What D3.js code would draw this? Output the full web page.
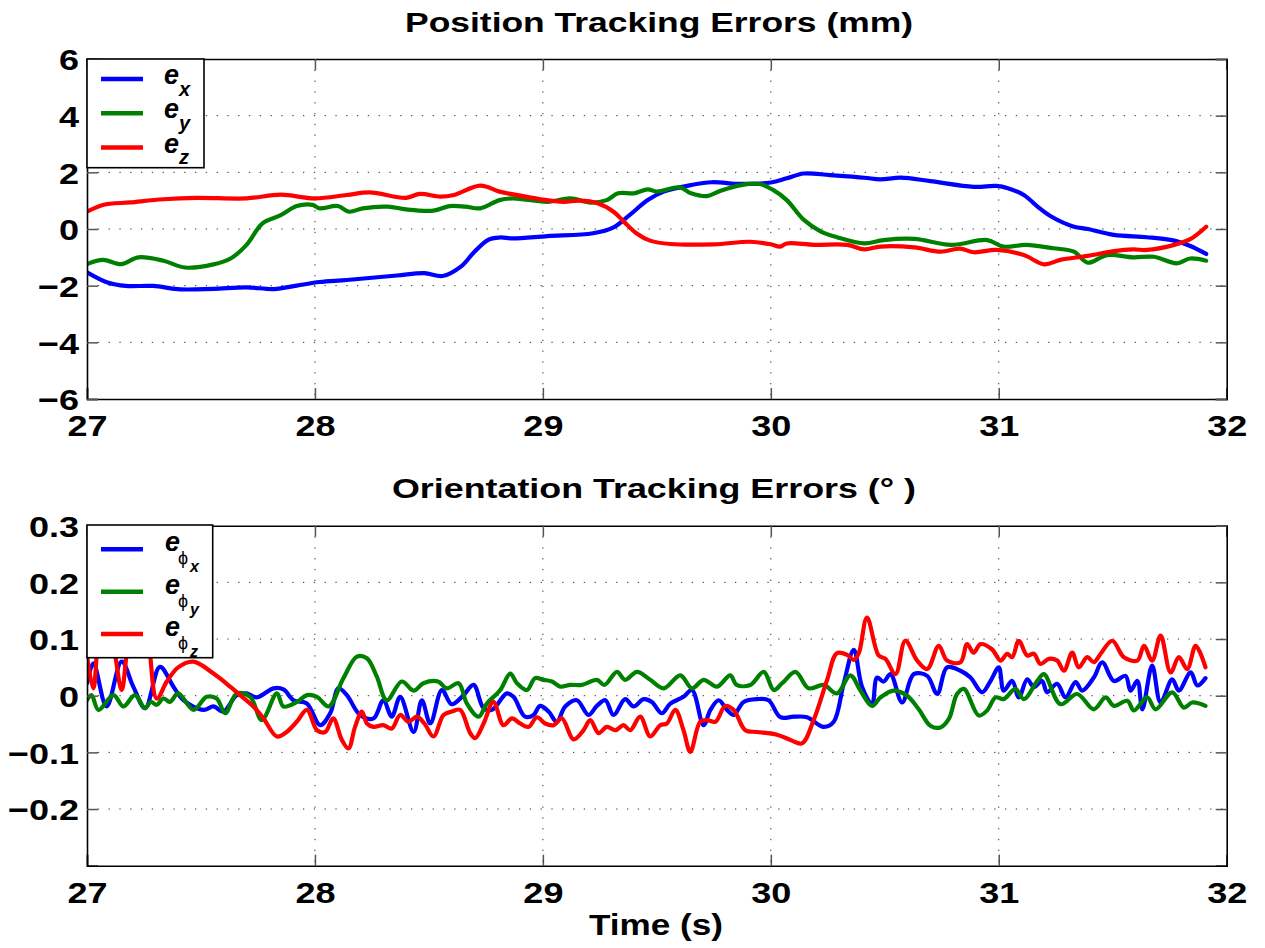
<!DOCTYPE html>
<html>
<head>
<meta charset="utf-8">
<script src="https://cdn.jsdelivr.net/npm/d3@7"></script>
<style>
  html, body { margin: 0; padding: 0; background: #fff; }
  svg { display: block; }
  text { font-family: "Liberation Sans", Arial, Helvetica, sans-serif; }
</style>
</head>
<body>
<svg id="chart" width="1265" height="948"></svg>
<script>
// ---------------- DATA ----------------
const xTicks = [27, 28, 29, 30, 31, 32];
const posYTicks = [-6, -4, -2, 0, 2, 4, 6];
const oriYTicks = [-0.2, -0.1, 0, 0.1, 0.2, 0.3];

// Position errors (mm)
const tPosX = [27.0,27.09,27.17,27.29,27.41,27.555,27.70,27.82,27.92,28.02,28.14,28.36,28.48,28.56,28.64,28.70,28.76,28.81,28.87,29.02,29.22,29.31,29.38,29.46,29.53,29.65,29.74,29.87,30.0,30.07,30.145,30.26,30.41,30.48,30.57,30.70,30.89,30.99,31.04,31.11,31.17,31.23,31.33,31.39,31.505,31.65,31.77,31.84,31.91];
const posX  = [-1.53,-1.89,-2.01,-2.01,-2.13,-2.11,-2.06,-2.12,-2.0,-1.87,-1.8,-1.64,-1.56,-1.66,-1.33,-0.8,-0.38,-0.3,-0.33,-0.25,-0.15,0.06,0.49,1.02,1.32,1.55,1.65,1.59,1.64,1.79,1.96,1.9,1.81,1.75,1.81,1.69,1.49,1.52,1.44,1.2,0.79,0.44,0.08,0.0,-0.21,-0.29,-0.41,-0.6,-0.88];

const tPosY = [27.0,27.07,27.15,27.225,27.335,27.43,27.555,27.63,27.70,27.77,27.85,27.92,27.99,28.02,28.10,28.15,28.21,28.32,28.40,28.52,28.59,28.66,28.725,28.81,28.87,29.02,29.12,29.21,29.28,29.33,29.40,29.46,29.50,29.60,29.65,29.72,29.78,29.87,29.95,30.01,30.07,30.145,30.22,30.29,30.41,30.495,30.63,30.79,30.95,31.02,31.12,31.24,31.33,31.39,31.475,31.59,31.68,31.78,31.84,31.91];
const posY  = [-1.24,-1.09,-1.24,-1.0,-1.12,-1.36,-1.25,-1.04,-0.56,0.2,0.49,0.81,0.85,0.73,0.81,0.61,0.73,0.79,0.69,0.65,0.81,0.79,0.73,1.02,1.08,0.96,1.08,0.93,1.02,1.26,1.26,1.4,1.32,1.47,1.26,1.16,1.35,1.55,1.59,1.38,1.02,0.32,-0.09,-0.29,-0.51,-0.39,-0.35,-0.56,-0.39,-0.62,-0.56,-0.68,-0.8,-1.19,-0.92,-1.0,-0.98,-1.21,-1.04,-1.12];

const tPosZ = [27.0,27.07,27.19,27.335,27.48,27.70,27.85,28.0,28.14,28.24,28.40,28.46,28.55,28.61,28.725,28.81,28.87,28.99,29.09,29.16,29.24,29.31,29.355,29.41,29.47,29.56,29.75,29.91,30.0,30.04,30.07,30.19,30.335,30.41,30.48,30.63,30.745,30.83,30.89,30.99,31.11,31.20,31.27,31.39,31.505,31.59,31.65,31.77,31.84,31.91];
const posZ  = [0.61,0.85,0.94,1.05,1.1,1.08,1.21,1.08,1.2,1.29,1.1,1.24,1.14,1.2,1.53,1.32,1.22,1.05,0.96,1.0,0.91,0.61,0.26,-0.15,-0.41,-0.53,-0.54,-0.45,-0.54,-0.62,-0.51,-0.56,-0.56,-0.72,-0.62,-0.65,-0.8,-0.69,-0.82,-0.74,-0.92,-1.25,-1.09,-0.95,-0.78,-0.72,-0.74,-0.56,-0.36,0.08];

// Orientation errors (deg)
const tOriX = [27.0,27.028,27.086,27.152,27.203,27.255,27.32,27.379,27.423,27.511,27.555,27.598,27.657,27.70,27.745,27.818,27.862,27.906,27.965,28.023,28.067,28.103,28.14,28.198,28.257,28.30,28.337,28.374,28.433,28.469,28.506,28.557,28.60,28.652,28.696,28.74,28.776,28.842,28.871,28.922,28.959,28.988,29.025,29.061,29.098,29.149,29.20,29.237,29.274,29.31,29.361,29.398,29.442,29.478,29.522,29.559,29.617,29.654,29.705,29.735,29.771,29.808,29.837,29.881,29.939,29.99,30.042,30.10,30.159,30.232,30.276,30.32,30.364,30.40,30.444,30.466,30.495,30.525,30.576,30.627,30.686,30.73,30.773,30.832,30.876,30.927,30.964,31.0,31.022,31.059,31.088,31.125,31.154,31.19,31.212,31.256,31.293,31.337,31.366,31.417,31.454,31.505,31.556,31.578,31.608,31.63,31.673,31.71,31.761,31.79,31.842,31.871,31.907];
const oriX  = [0.022,0.057,-0.019,0.06,0.016,-0.022,0.051,0.016,-0.008,-0.025,-0.019,-0.028,0.001,0.004,-0.003,0.013,0.011,-0.008,-0.014,-0.052,-0.031,0.013,0.001,-0.034,-0.04,-0.008,-0.037,-0.002,-0.064,-0.008,-0.049,0.01,-0.015,0.001,0.019,-0.022,-0.025,0.004,-0.002,-0.037,-0.034,-0.018,-0.028,-0.046,-0.019,-0.008,-0.034,-0.018,-0.008,-0.034,-0.006,-0.019,-0.006,-0.011,-0.031,-0.014,-0.002,0.01,-0.052,-0.025,-0.008,-0.025,-0.034,-0.011,-0.006,-0.008,-0.038,-0.037,-0.038,-0.055,-0.046,0.022,0.081,0.016,-0.015,0.032,0.025,0.038,-0.012,0.038,0.035,0.003,0.05,0.044,0.032,0.006,0.026,0.05,0.009,0.026,-0.003,0.029,0.015,0.026,0.006,0.021,-0.003,0.024,0.009,0.032,0.059,0.026,0.035,0.009,0.026,-0.024,0.053,-0.012,0.029,0.009,0.041,0.018,0.031];

const tOriY = [27.0,27.02,27.05,27.116,27.16,27.21,27.255,27.28,27.306,27.335,27.364,27.40,27.467,27.525,27.569,27.606,27.657,27.716,27.767,27.833,27.862,27.921,27.965,28.009,28.06,28.125,28.184,28.228,28.271,28.315,28.381,28.433,28.476,28.54,28.579,28.63,28.667,28.718,28.754,28.813,28.857,28.886,28.93,28.966,29.003,29.04,29.076,29.12,29.171,29.237,29.27,29.325,29.361,29.413,29.471,29.53,29.603,29.654,29.705,29.764,29.822,29.85,29.91,29.969,30.013,30.05,30.108,30.166,30.232,30.29,30.349,30.393,30.444,30.481,30.539,30.598,30.649,30.70,30.744,30.781,30.817,30.847,30.912,30.949,30.986,31.022,31.073,31.11,31.169,31.198,31.271,31.344,31.417,31.469,31.505,31.564,31.593,31.651,31.688,31.761,31.812,31.849,31.907];
const oriY  = [-0.008,0.001,-0.025,0.001,-0.019,0.001,-0.022,-0.011,-0.016,-0.005,-0.011,0.004,-0.025,-0.002,-0.005,-0.031,0.004,-0.002,-0.043,0.004,-0.019,-0.011,0.001,-0.002,-0.019,0.031,0.069,0.066,0.034,-0.008,0.025,0.009,0.022,0.025,0.013,0.022,-0.014,-0.037,-0.014,0.01,0.039,0.022,0.01,0.031,0.028,0.025,0.016,0.019,0.019,0.028,0.019,0.042,0.028,0.042,0.028,0.013,0.036,0.013,0.028,0.016,0.036,0.019,0.019,0.042,0.01,0.022,0.042,0.013,0.019,0.004,0.036,0.009,-0.018,-0.003,0.009,0.0,-0.024,-0.053,-0.056,-0.041,0.003,0.012,-0.035,-0.026,-0.003,-0.006,0.012,-0.006,0.026,0.038,-0.015,0.003,-0.024,-0.003,-0.018,-0.009,-0.026,-0.003,-0.024,0.006,-0.021,-0.012,-0.018];

const tOriZ = [27.0,27.028,27.06,27.09,27.12,27.152,27.18,27.22,27.26,27.306,27.35,27.40,27.467,27.555,27.628,27.672,27.73,27.774,27.833,27.876,27.92,27.965,28.009,28.045,28.08,28.118,28.147,28.176,28.206,28.228,28.257,28.30,28.337,28.374,28.41,28.447,28.48,28.52,28.564,28.60,28.637,28.681,28.703,28.74,28.783,28.827,28.864,28.9,28.937,28.974,29.01,29.047,29.083,29.135,29.178,29.208,29.244,29.281,29.318,29.354,29.383,29.427,29.471,29.515,29.544,29.581,29.617,29.647,29.69,29.72,29.757,29.80,29.837,29.888,29.939,30.027,30.086,30.137,30.188,30.247,30.29,30.335,30.364,30.386,30.422,30.473,30.503,30.547,30.59,30.642,30.686,30.737,30.773,30.832,30.861,30.89,30.92,30.97,31.008,31.037,31.059,31.088,31.125,31.154,31.183,31.22,31.256,31.286,31.322,31.351,31.388,31.417,31.447,31.498,31.549,31.608,31.637,31.673,31.71,31.754,31.79,31.827,31.864,31.907];
const oriZ  = [0.07,0.013,0.12,0.13,0.08,0.01,0.09,0.15,0.12,-0.005,0.025,0.05,0.06,0.039,0.016,0.001,-0.019,-0.04,-0.072,-0.064,-0.046,-0.025,-0.061,-0.064,-0.04,-0.078,-0.093,-0.055,-0.028,-0.049,-0.055,-0.052,-0.058,-0.034,-0.046,-0.037,-0.049,-0.072,-0.034,-0.028,-0.025,-0.066,-0.075,-0.049,-0.011,-0.052,-0.04,-0.049,-0.055,-0.038,-0.049,-0.052,-0.04,-0.077,-0.061,-0.043,-0.066,-0.055,-0.061,-0.052,-0.061,-0.037,-0.072,-0.052,-0.049,-0.025,-0.061,-0.099,-0.046,-0.043,-0.046,-0.018,-0.025,-0.061,-0.064,-0.069,-0.078,-0.084,-0.043,0.028,0.075,0.072,0.063,0.075,0.138,0.071,0.065,0.038,0.097,0.062,0.047,0.088,0.062,0.059,0.091,0.076,0.091,0.082,0.062,0.074,0.068,0.097,0.071,0.074,0.056,0.065,0.062,0.044,0.076,0.05,0.068,0.059,0.074,0.097,0.068,0.062,0.088,0.062,0.106,0.041,0.068,0.047,0.088,0.05];

const colors = { x: "#0000ff", y: "#008000", z: "#ff0000" };
const axisLabels = ["x", "y", "z"];

// ---------------- LAYOUT ----------------
const svg = d3.select("#chart");
const L = 87, R = 1226.7;
const panels = [
  { top: 59, bottom: 399, domain: [-6, 6], yTicks: posYTicks, fmt: d3.format("d"),
    title: "Position Tracking Errors (mm)", titleX: 405, titleLen: 508, titleY: 32,
    series: [[tPosX, posX, "x"], [tPosY, posY, "y"], [tPosZ, posZ, "z"]], id: "p" },
  { top: 525.7, bottom: 865.7, domain: [-0.3, 0.3], yTicks: oriYTicks,
    fmt: d => d === 0 ? "0" : d3.format(".1f")(d),
    title: "Orientation Tracking Errors (\u00B0 )", titleX: 392, titleLen: 524, titleY: 498,
    series: [[tOriX, oriX, "x"], [tOriY, oriY, "y"], [tOriZ, oriZ, "z"]], id: "o" }
];

const x = d3.scaleLinear().domain([27, 32]).range([L, R]);
const TS = 1.2; // horizontal text stretch of tick labels

panels.forEach(p => {
  const y = d3.scaleLinear().domain(p.domain).range([p.bottom, p.top]);
  const g = svg.append("g");

  svg.append("clipPath").attr("id", "clip-" + p.id)
    .append("rect").attr("x", L).attr("y", p.top).attr("width", R - L).attr("height", p.bottom - p.top);

  // grid
  const grid = g.append("g").attr("stroke", "#333").attr("stroke-width", 1).attr("stroke-dasharray", "1.3,9.5");
  xTicks.filter(t => t > 27 && t < 32).forEach(t => {
    grid.append("line").attr("x1", x(t)).attr("x2", x(t)).attr("y1", p.top).attr("y2", p.bottom);
  });
  p.yTicks.filter(t => y(t) > p.top + 1 && y(t) < p.bottom - 1).forEach(t => {
    grid.append("line").attr("x1", L).attr("x2", R).attr("y1", y(t)).attr("y2", y(t));
  });

  // lines
  const line = d3.line().x(d => x(d[0])).y(d => y(d[1])).curve(d3.curveCatmullRom.alpha(0.5));
  const lg = g.append("g").attr("clip-path", `url(#clip-${p.id})`);
  p.series.forEach(([ts, vs, k]) => {
    lg.append("path").datum(ts.map((t, i) => [t, vs[i]]))
      .attr("d", line).attr("fill", "none").attr("stroke", colors[k])
      .attr("stroke-width", 4.2).attr("stroke-linejoin", "round").attr("stroke-linecap", "round");
  });

  // axes (ticks inward, mirrored)
  const tickLen = 11;
  const axB = g.append("g").attr("transform", `translate(0,${p.bottom})`)
    .call(d3.axisBottom(x).tickValues(xTicks).tickSize(-tickLen).tickPadding(0).tickFormat(d3.format("d")));
  const axT = g.append("g").attr("transform", `translate(0,${p.top})`)
    .call(d3.axisTop(x).tickValues(xTicks).tickSize(-tickLen).tickFormat(""));
  const axLft = g.append("g").attr("transform", `translate(${L},0)`)
    .call(d3.axisLeft(y).tickValues(p.yTicks).tickSize(-tickLen).tickPadding(0).tickFormat(p.fmt));
  const axRt = g.append("g").attr("transform", `translate(${R},0)`)
    .call(d3.axisRight(y).tickValues(p.yTicks).tickSize(-tickLen).tickFormat(""));
  [axB, axT, axLft, axRt].forEach(a => {
    a.select(".domain").attr("stroke", "#000").attr("stroke-width", 1.6);
    a.selectAll(".tick line").attr("stroke", "#555").attr("stroke-width", 1.5);
  });
  axB.selectAll(".tick text")
    .attr("font-size", 30).attr("font-weight", "bold").attr("fill", "#000")
    .attr("dy", null).attr("y", 37.5).attr("transform", `scale(${TS},1)`);
  axLft.selectAll(".tick text")
    .attr("font-size", 30).attr("font-weight", "bold").attr("fill", "#000")
    .attr("x", -8 / TS).attr("dy", "0.36em").attr("transform", `scale(${TS},1)`);

  // title
  svg.append("text").attr("x", p.titleX).attr("y", p.titleY)
    .attr("font-size", 27).attr("font-weight", "bold")
    .attr("textLength", p.titleLen).attr("lengthAdjust", "spacingAndGlyphs")
    .text(p.title);
});

// x-axis label
svg.append("text").attr("x", 589).attr("y", 935)
  .attr("font-size", 30).attr("font-weight", "bold")
  .attr("textLength", 134).attr("lengthAdjust", "spacingAndGlyphs")
  .text("Time (s)");

// ---------------- LEGENDS ----------------
{
  const lg = svg.append("g");
  lg.append("rect").attr("x", 87).attr("y", 59).attr("width", 117).attr("height", 108.7)
    .attr("fill", "#fff").attr("stroke", "#000").attr("stroke-width", 1.6);
  axisLabels.forEach((k, i) => {
    const ly = 79 + i * 34.3;
    lg.append("line").attr("x1", 101).attr("x2", 143).attr("y1", ly).attr("y2", ly)
      .attr("stroke", colors[k]).attr("stroke-width", 4.5);
    lg.append("text").attr("x", 164).attr("y", ly + 5)
      .attr("font-size", 27).attr("font-weight", "bold").attr("font-style", "italic").text("e");
    lg.append("text").attr("x", 179).attr("y", ly + 16.5)
      .attr("font-size", 20).attr("font-weight", "bold").attr("font-style", "italic").text(k);
  });
}
{
  const lg = svg.append("g");
  lg.append("rect").attr("x", 87).attr("y", 525).attr("width", 125.7).attr("height", 132.7)
    .attr("fill", "#fff").attr("stroke", "#000").attr("stroke-width", 1.6);
  axisLabels.forEach((k, i) => {
    const ly = 549.3 + i * 42.35;
    lg.append("line").attr("x1", 101).attr("x2", 143).attr("y1", ly).attr("y2", ly)
      .attr("stroke", colors[k]).attr("stroke-width", 4.5);
    lg.append("text").attr("x", 165).attr("y", ly + 2)
      .attr("font-size", 27).attr("font-weight", "bold").attr("font-style", "italic").text("e");
    lg.append("text").attr("x", 178).attr("y", ly + 15)
      .attr("font-size", 18).attr("font-family", "DejaVu Sans").text("\u03D5");
    lg.append("text").attr("x", 190).attr("y", ly + 23)
      .attr("font-size", 16).attr("font-weight", "bold").attr("font-style", "italic").text(k);
  });
}
</script>
</body>
</html>
